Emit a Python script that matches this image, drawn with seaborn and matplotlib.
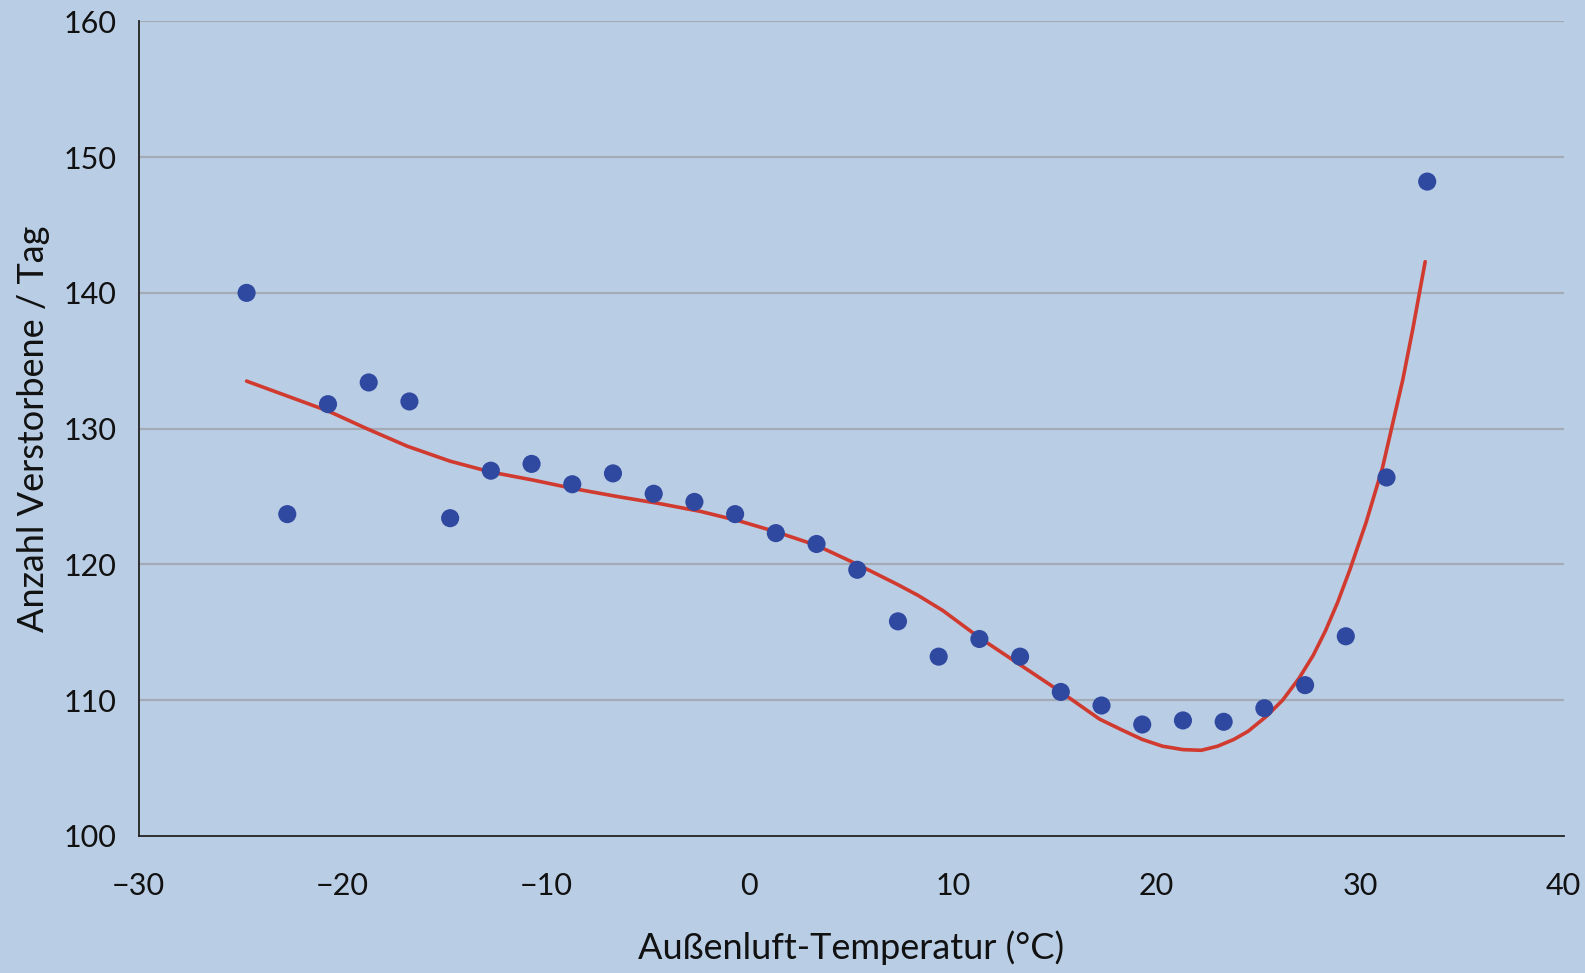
import matplotlib
matplotlib.use("Agg")
import matplotlib.pyplot as plt
import pandas as pd
import seaborn as sns

# Tageswerte: Temperaturklassen (°C) und mittlere Anzahl Verstorbene
temp = [-24.7, -22.7, -20.7, -18.7, -16.7, -14.7, -12.7, -10.7, -8.7, -6.7,
        -4.7, -2.7, -0.7, 1.3, 3.3, 5.3, 7.3, 9.3, 11.3, 13.3,
        15.3, 17.3, 19.3, 21.3, 23.3, 25.3, 27.3, 29.3, 31.3, 33.3]
deaths = [140.0, 123.7, 131.8, 133.4, 132.0, 123.4, 126.9, 127.4, 125.9, 126.7,
          125.2, 124.6, 123.7, 122.3, 121.5, 119.6, 115.8, 113.2, 114.5, 113.2,
          110.6, 109.6, 108.2, 108.5, 108.4, 109.4, 111.1, 114.7, 126.4, 148.2]

# geglättete Kurve
fit_x = [-24.7, -22.7, -20.7, -18.8, -16.8, -14.7, -12.7, -10.6, -8.7, -6.5,
         -4.5, -2.4, -0.5, 1.3, 3.3, 5.3, 7.3, 8.3, 9.5, 11.3,
         13.3, 15.3, 17.2, 18.3, 19.3, 20.3, 21.3, 22.2, 23.0, 23.8,
         24.5, 25.4, 26.2, 27.0, 27.7, 28.3, 28.9, 29.5, 30.3, 31.1,
         32.1, 32.6, 33.2]
fit_y = [133.5, 132.4, 131.3, 130.0, 128.7, 127.6, 126.8, 126.2, 125.6, 125.0,
         124.5, 123.9, 123.2, 122.4, 121.4, 120.0, 118.5, 117.7, 116.6, 114.6,
         112.6, 110.6, 108.6, 107.8, 107.1, 106.6, 106.35, 106.3, 106.6, 107.1,
         107.7, 108.8, 110.0, 111.6, 113.3, 115.1, 117.2, 119.6, 123.1, 127.1,
         133.6, 137.4, 142.3]

x_ticks = [-30, -20, -10, 0, 10, 20, 30, 40]
y_ticks = [100, 110, 120, 130, 140, 150, 160]

BG = "#b9cde5"

sns.set_theme(style="white")
plt.rcParams["font.family"] = ["Lato", "DejaVu Sans"]

fig = plt.figure(figsize=(15.85, 9.73), dpi=100, facecolor=BG)
ax = fig.add_axes([0.0875, 0.141, 0.899, 0.837])
ax.set_facecolor(BG)

pts = pd.DataFrame({"temp": temp, "deaths": deaths})
fit = pd.DataFrame({"x": fit_x, "y": fit_y})

for yv in y_ticks[1:]:
    ax.axhline(yv, color="#a3abb6", lw=1.6, zorder=0)

sns.lineplot(data=fit, x="x", y="y", sort=False, estimator=None,
             color="#d03a2f", lw=2.6, ax=ax, zorder=2)
sns.scatterplot(data=pts, x="temp", y="deaths", s=170, color="#2f48a0",
                edgecolor="none", ax=ax, zorder=3)

ax.set_xlim(-30, 40)
ax.set_ylim(100, 160)
ax.set_xticks(x_ticks)
ax.set_yticks(y_ticks)
ax.tick_params(axis="both", which="major", direction="out", length=9, width=1.2,
               color="#222222", labelsize=22, labelcolor="#111111")
ax.tick_params(axis="x", pad=17)
ax.tick_params(axis="y", pad=7)

for side in ["top", "right"]:
    ax.spines[side].set_visible(False)
for side in ["left", "bottom"]:
    ax.spines[side].set_color("#222222")
    ax.spines[side].set_linewidth(1.3)

ax.set_xlabel("Außenluft-Temperatur (°C)", fontsize=26, color="#111111", labelpad=22)
ax.set_ylabel("Anzahl Verstorbene / Tag", fontsize=26, color="#111111", labelpad=10)

fig.savefig("out.png", dpi=100, facecolor=BG)
